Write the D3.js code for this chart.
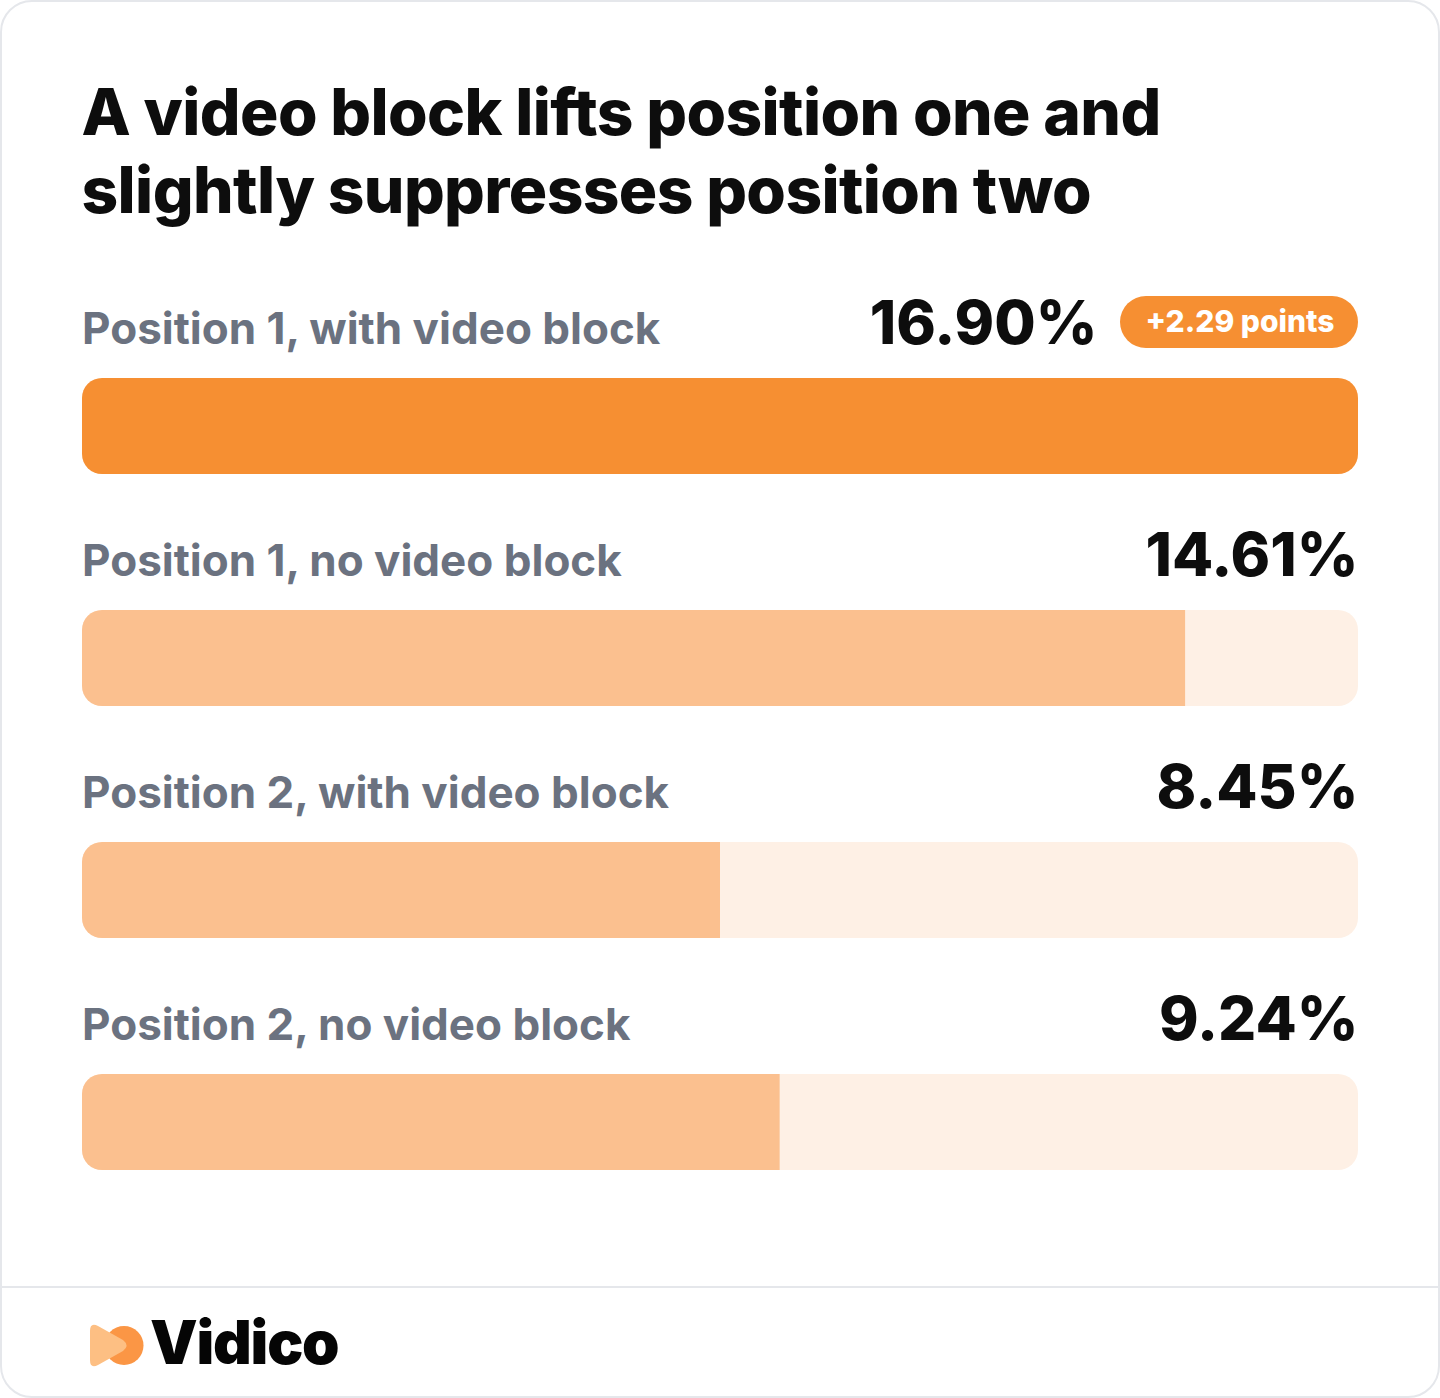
<!DOCTYPE html>
<html><head><meta charset="utf-8">
<script src="https://cdn.jsdelivr.net/npm/d3@7"></script>
<style>html,body{margin:0;padding:0;background:#fff}svg{display:block}text{font-family:Inter,sans-serif}</style>
</head><body><svg id="c" width="1440" height="1398"></svg>
<script>
const categories=["Position 1, with video block","Position 1, no video block","Position 2, with video block","Position 2, no video block"];
const values=[16.90,14.61,8.45,9.24];
const valueLabels=["16.90%","14.61%","8.45%","9.24%"];
const titleLines=["A video block lifts position one and","slightly suppresses position two"];
const badgeText="+2.29 points";
const svg=d3.select("#c");
svg.append("rect").attr("x",1).attr("y",1).attr("width",1438).attr("height",1396).attr("rx",31).attr("fill","#fff").attr("stroke","#e5e7eb").attr("stroke-width",2);
svg.append("line").attr("x1",1).attr("x2",1439).attr("y1",1287).attr("y2",1287).attr("stroke","#e5e7eb").attr("stroke-width",2);
svg.selectAll("text.title").data(titleLines).join("text").attr("class","title").attr("x",81.5).attr("y",(d,i)=>135+i*78).attr("font-size",64).attr("font-weight",800).attr("letter-spacing",-0.6).attr("fill","#0d0d0d").text(d=>d);
const x=d3.scaleLinear().domain([0,16.9]).range([82,1358]);
const y=d3.scalePoint().domain(categories).range([378,1074]);
const g=svg.selectAll("g.row").data(categories).join("g").attr("class","row");
const bh=96;
svg.append("defs").selectAll("clipPath").data(categories).join("clipPath").attr("id",(d,i)=>"cp"+i).append("rect").attr("x",x(0)).attr("y",d=>y(d)).attr("width",x(16.9)-x(0)).attr("height",bh).attr("rx",20);
g.append("rect").attr("x",x(0)).attr("y",d=>y(d)).attr("width",x(16.9)-x(0)).attr("height",bh).attr("rx",20).attr("fill","#fef0e5");
g.append("rect").attr("clip-path",(d,i)=>`url(#cp${i})`).attr("x",x(0)).attr("y",d=>y(d)).attr("width",(d,i)=>x(values[i])-x(0)).attr("height",bh).attr("fill",(d,i)=>i==0?"#f68f32":"#fbc08f");
g.append("text").attr("x",82).attr("y",d=>y(d)-34).attr("font-size",44).attr("font-weight",700).attr("letter-spacing",0).attr("fill","#6b7280").text(d=>d);
g.append("text").attr("x",(d,i)=>i==0?1097.5:1358.5).attr("y",d=>y(d)-34.5).attr("text-anchor","end").attr("font-size",60).attr("font-weight",800).attr("fill","#0d0d0d").text((d,i)=>valueLabels[i]);
svg.append("rect").attr("x",1120).attr("y",296).attr("width",238).attr("height",52).attr("rx",26).attr("fill","#f68f32");
svg.append("text").attr("x",1240).attr("y",332).attr("text-anchor","middle").attr("font-size",30).attr("font-weight",800).attr("letter-spacing",0).attr("fill","#fff").text(badgeText);
const logo=svg.append("g");
logo.append("circle").attr("cx",124).attr("cy",1345.5).attr("r",19.5).attr("fill","#fb9645");
logo.append("path").attr("d","M90 1331 Q90 1322 98 1326 L123 1340 Q130 1345.5 123 1351 L98 1365 Q90 1369 90 1360 Z").attr("fill","#fdbf83");
svg.append("text").attr("x",150).attr("y",1364).attr("font-size",60).attr("font-weight",900).attr("letter-spacing",-1.2).attr("font-family","Lato,Inter,sans-serif").attr("fill","#050505").text("Vidico");
</script></body></html>
